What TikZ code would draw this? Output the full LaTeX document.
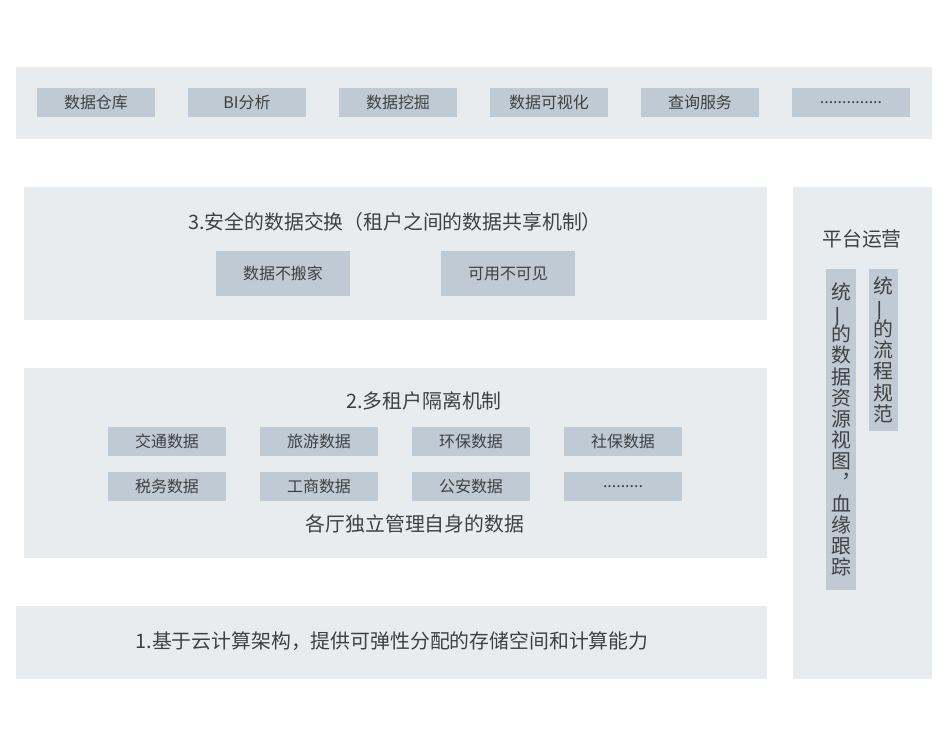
\documentclass[tikz,border=0pt]{standalone}
\usepackage{fontspec}
\usepackage{graphicx}
\usepackage{tikz}
\newfontfamily\cjk{Noto Sans CJK SC}

\definecolor{panelbg}{RGB}{233,236,239}
\definecolor{boxbg}{RGB}{191,202,213}
\definecolor{txtgray}{RGB}{64,64,64}

\newcommand{\vtextfont}{\cjk\fontsize{11.3}{12.07}\selectfont\lineskiplimit=-100pt\relax}
\newcommand{\vyi}{\rotatebox[origin=c]{90}{一}}

\tikzset{
  panel/.style={fill=panelbg, inner sep=0pt},
  item/.style={fill=boxbg, inner sep=0pt, minimum width=2.36cm, minimum height=0.58cm,
    font=\cjk\fontsize{9.1}{10}\selectfont, text=txtgray},
  bigitem/.style={item, minimum width=2.68cm, minimum height=0.9cm},
  vitem/.style={fill=boxbg, inner sep=0pt, minimum width=0.6cm, align=center,
    font=\vtextfont, text=txtgray},
  title/.style={font=\cjk\fontsize{11.3}{13}\selectfont, text=txtgray, inner sep=0pt}
}

\begin{document}
\begin{tikzpicture}[x=0.02cm, y=-0.02cm]

\useasboundingbox (0,0) rectangle (948,746);

% Application layer
\node[panel, minimum width=18.32cm, minimum height=1.44cm] (apps) at (474,103) {};
\node[item] (dw)   at (96,102.5)  {数据仓库};
\node[item] (bi)   at (247,102.5) {BI分析};
\node[item] (dm)   at (398,102.5) {数据挖掘};
\node[item] (vis)  at (549,102.5) {数据可视化};
\node[item] (qry)  at (700,102.5) {查询服务};
\node[item] (more) at (851,102.5) {..............};

% 3. data exchange
\node[panel, minimum width=14.86cm, minimum height=2.66cm] (exch) at (395.5,253.5) {};
\node[title] (exchtitle) at (395,222) {3.安全的数据交换（租户之间的数据共享机制）};
\node[bigitem] (nomove) at (283,273.5) {数据不搬家};
\node[bigitem] (usable) at (508,273.5) {可用不可见};

% 2. multi tenant
\node[panel, minimum width=14.86cm, minimum height=3.8cm] (tenant) at (395.5,463) {};
\node[title] (tenanttitle) at (424,401) {2.多租户隔离机制};
\node[item] (traffic) at (167,441.5) {交通数据};
\node[item] (travel)  at (319,441.5) {旅游数据};
\node[item] (env)     at (471,441.5) {环保数据};
\node[item] (social)  at (623,441.5) {社保数据};
\node[item] (tax)     at (167,486.5) {税务数据};
\node[item] (biz)     at (319,486.5) {工商数据};
\node[item] (police)  at (471,486.5) {公安数据};
\node[item] (etc)     at (623,486.5) {.........};
\node[title] (tenantnote) at (415,524) {各厅独立管理自身的数据};

% 1. cloud base
\node[panel, minimum width=15.02cm, minimum height=1.46cm] (cloud) at (391.5,642.5) {};
\node[title] (cloudtitle) at (392,641) {1.基于云计算架构，提供可弹性分配的存储空间和计算能力};

% Platform operation
\node[panel, minimum width=2.78cm, minimum height=9.84cm] (ops) at (862.5,433) {};
\node[title] (opstitle) at (862,239) {平台运营};
\node[vitem, minimum height=6.42cm] (resview) at (841,429.5)
  {统\\\vyi\\的\\数\\据\\资\\源\\视\\图\\︐\\血\\缘\\跟\\踪};
\node[vitem, minimum width=0.58cm, minimum height=3.24cm] (flow) at (883.5,350)
  {统\\\vyi\\的\\流\\程\\规\\范};

\end{tikzpicture}
\end{document}
